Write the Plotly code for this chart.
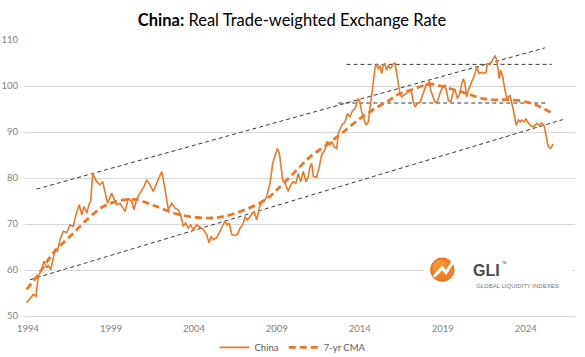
import plotly.graph_objects as go

# ---- data ----
china_t = [1993.92, 1994.32, 1994.48, 1994.62, 1994.83, 1994.96, 1995.13, 1995.22, 1995.37, 1995.53,
           1995.63, 1995.77, 1995.93, 1996.13, 1996.33, 1996.53, 1996.73, 1996.89, 1997.09, 1997.24,
           1997.38, 1997.54, 1997.70, 1997.78, 1997.90, 1998.14, 1998.34, 1998.50, 1998.64, 1998.80,
           1999.04, 1999.35, 1999.55, 1999.85, 2000.05, 2000.25, 2000.39, 2000.55, 2000.75, 2000.99,
           2001.15, 2001.35, 2001.55, 2001.76, 2002.06, 2002.20, 2002.32, 2002.46, 2002.66, 2002.86,
           2003.06, 2003.20, 2003.36, 2003.50, 2003.66, 2003.81, 2003.96, 2004.17, 2004.37, 2004.57,
           2004.77, 2004.91, 2005.03, 2005.17, 2005.37, 2005.57, 2005.74, 2005.87, 2006.01, 2006.13,
           2006.28, 2006.48, 2006.62, 2006.78, 2006.94, 2007.08, 2007.22, 2007.38, 2007.54, 2007.62,
           2007.79, 2007.94, 2008.09, 2008.23, 2008.39, 2008.59, 2008.75, 2008.89, 2009.03, 2009.15,
           2009.23, 2009.35, 2009.49, 2009.69, 2009.83, 2009.99, 2010.15, 2010.29, 2010.44, 2010.59,
           2010.76, 2010.90, 2011.00, 2011.10, 2011.20, 2011.40, 2011.56, 2011.70, 2011.90, 2012.00,
           2012.20, 2012.31, 2012.44, 2012.61, 2012.70, 2012.91, 2013.11, 2013.25, 2013.41, 2013.57,
           2013.71, 2013.81, 2013.91, 2014.01, 2014.11, 2014.21, 2014.37, 2014.51, 2014.61, 2014.78,
           2014.92, 2015.02, 2015.12, 2015.22, 2015.32, 2015.42, 2015.52, 2015.62, 2015.72, 2015.82,
           2015.92, 2016.02, 2016.12, 2016.22, 2016.32, 2016.42, 2016.52, 2016.66, 2016.78, 2016.92,
           2017.03, 2017.13, 2017.23, 2017.33, 2017.47, 2017.63, 2017.83, 2018.03, 2018.13, 2018.19,
           2018.27, 2018.39, 2018.53, 2018.67, 2018.83, 2019.00, 2019.13, 2019.24, 2019.33, 2019.48,
           2019.60, 2019.74, 2019.88, 2020.04, 2020.14, 2020.24, 2020.34, 2020.44, 2020.54, 2020.74,
           2020.88, 2021.05, 2021.20, 2021.35, 2021.45, 2021.61, 2021.69, 2021.85, 2022.01, 2022.15,
           2022.25, 2022.35, 2022.41, 2022.49, 2022.61, 2022.75, 2022.86, 2023.05, 2023.16, 2023.26,
           2023.42, 2023.56, 2023.66, 2023.76, 2023.90, 2024.02, 2024.10, 2024.26, 2024.46, 2024.67,
           2024.82, 2024.96, 2025.10, 2025.22, 2025.36, 2025.50, 2025.66]
china_v = [52.9, 54.7, 54.3, 58.7, 60.1, 61.9, 60.5, 61.0, 60.1, 63.0,
           64.4, 64.1, 66.6, 68.4, 68.1, 69.8, 69.5, 72.0, 74.2, 72.0,
           73.8, 72.4, 74.5, 74.9, 81.0, 79.2, 78.5, 79.2, 76.7, 74.5,
           76.7, 74.2, 74.5, 72.7, 75.6, 74.9, 73.1, 75.4, 76.7, 78.1,
           79.6, 78.5, 77.1, 78.9, 81.4, 78.9, 76.0, 73.1, 74.5, 73.5,
           73.1, 72.0, 69.5, 70.2, 69.1, 69.8, 68.8, 69.8, 69.3, 68.8,
           67.7, 65.9, 67.3, 66.6, 67.0, 68.4, 69.8, 70.6, 69.8, 70.2,
           67.7, 67.5, 67.7, 69.1, 69.8, 71.6, 70.9, 71.6, 72.4, 72.7,
           70.9, 73.5, 74.9, 74.9, 76.0, 78.9, 83.2, 84.6, 86.4, 85.4,
           83.2, 79.6, 78.9, 77.1, 78.5, 79.2, 78.9, 81.0, 79.2, 81.4,
           79.2, 80.3, 82.5, 83.2, 80.3, 80.2, 82.5, 85.0, 86.1, 87.9,
           87.2, 87.9, 86.8, 86.4, 89.7, 91.5, 92.2, 94.0, 93.3, 94.7,
           95.1, 96.2, 97.3, 96.5, 94.4, 93.3, 91.5, 92.2, 94.7, 99.8,
           104.1, 104.8, 103.6, 104.5, 102.7, 104.5, 104.8, 103.4, 104.5, 103.8,
           104.2, 104.8, 105.0, 102.7, 100.5, 98.4, 97.6, 98.0, 98.4, 98.7,
           99.1, 98.4, 96.5, 95.5, 96.2, 96.5, 98.4, 100.5, 100.2, 101.2,
           99.1, 98.0, 96.5, 96.5, 98.4, 99.8, 100.2, 98.7, 96.9, 96.5,
           98.4, 99.1, 97.3, 98.4, 100.5, 101.6, 100.5, 97.6, 99.1, 100.9,
           102.0, 104.1, 102.7, 103.0, 102.7, 103.0, 104.8, 104.8, 105.9, 106.6,
           105.6, 103.0, 101.6, 103.4, 102.0, 99.1, 97.3, 98.0, 96.5, 94.7,
           91.5, 92.6, 92.2, 92.6, 92.2, 92.9, 92.2, 91.5, 91.1, 91.9,
           91.5, 92.0, 91.5, 89.0, 86.8, 86.4, 87.4]

cma_t = [1993.92, 1994.62, 1995.53, 1996.53, 1997.54, 1998.54, 1999.35, 1999.95, 2000.55, 2001.25,
         2001.76, 2002.76, 2003.76, 2004.97, 2005.77, 2006.78, 2007.79, 2008.59, 2009.00, 2010.00,
         2011.00, 2012.00, 2013.00, 2014.00, 2015.00, 2015.82, 2016.22, 2017.23, 2018.23, 2019.24,
         2020.24, 2021.25, 2022.05, 2022.96, 2024.06, 2024.86, 2025.66]
cma_v = [55.8, 59.0, 63.7, 67.3, 70.9, 73.8, 74.9, 75.3, 75.3, 74.5,
         73.8, 72.4, 71.6, 71.3, 71.6, 72.7, 74.2, 76.0, 77.4, 81.0,
         84.6, 87.2, 90.0, 92.9, 95.3, 97.0, 98.0, 99.3, 100.4, 99.6,
         98.6, 97.4, 97.0, 97.0, 96.5, 95.5, 93.9]

# trend / range lines (start, end)
upper_trend_t = [1994.52, 2025.16]
upper_trend_v = [77.6, 108.3]
lower_trend_t = [1994.12, 2026.23]
lower_trend_v = [57.9, 92.7]
top_range_t = [2013.20, 2025.57]
top_range_v = [104.7, 104.7]
mid_range_t = [2012.70, 2025.36]
mid_range_v = [96.3, 96.3]

tick_years = [1994, 1999, 2004, 2009, 2014, 2019, 2024]
tick_text = [str(y) for y in tick_years]

ORANGE = "#E8792A"
FONT = "Lato"

fig = go.Figure()

for tt, vv in [(upper_trend_t, upper_trend_v), (lower_trend_t, lower_trend_v),
               (top_range_t, top_range_v), (mid_range_t, mid_range_v)]:
    fig.add_trace(go.Scatter(x=tt, y=vv, mode="lines", showlegend=False, hoverinfo="skip",
                             line=dict(color="#3a3a3a", width=1, dash="4px,3px")))

fig.add_trace(go.Scatter(x=china_t, y=china_v, mode="lines", name="China",
                         line=dict(color=ORANGE, width=1.6)))
fig.add_trace(go.Scatter(x=cma_t, y=cma_v, mode="lines", name="7-yr CMA", line_shape="spline",
                         line=dict(color=ORANGE, width=2.8, dash="7px,4px")))

# plot area in window pixels: x 25..575, y 39.5..316.5
W, H = 585, 357

def px(X):
    return (X - 25) / 550.0

def py(Y):
    return (316.5 - Y) / 277.0

shapes = [
    dict(type="rect", xref="paper", yref="paper", x0=px(424), x1=px(572), y0=py(292), y1=py(252),
         fillcolor="white", line=dict(width=0), layer="above"),
    dict(type="circle", xref="paper", yref="paper", x0=px(430.6), x1=px(454), y0=py(281.7), y1=py(258.3),
         fillcolor="#EF7E22", line=dict(color="#E36A1C", width=1), layer="above"),
    dict(type="circle", xref="paper", yref="paper", x0=px(432.5), x1=px(447), y0=py(275), y1=py(260),
         fillcolor="#F6A03A", line=dict(width=0), opacity=0.6, layer="above"),
    dict(type="path", xref="paper", yref="paper",
         path=f"M {px(434)} {py(277)} L {px(442)} {py(268)} L {px(446)} {py(273)} L {px(453)} {py(262)}",
         line=dict(color="white", width=3), layer="above"),
]

annotations = [
    dict(xref="paper", yref="paper", x=px(471), y=py(270.5), text="<b>GLI</b>", showarrow=False,
         font=dict(family="Liberation Sans", size=16, color="#4a4a4a"), xanchor="left", yanchor="middle"),
    dict(xref="paper", yref="paper", x=px(500), y=py(263), text="TM", showarrow=False,
         font=dict(family="Liberation Sans", size=3, color="#4a4a4a"), xanchor="left", yanchor="middle"),
    dict(xref="paper", yref="paper", x=px(517.5), y=py(286), text="GLOBAL LIQUIDITY INDEXES",
         showarrow=False, font=dict(family="Liberation Sans", size=6, color="#777777"),
         xanchor="center", yanchor="middle"),
]

fig.update_layout(
    width=W, height=H,
    margin=dict(l=25, r=W - 575, t=39.5, b=H - 316.5, autoexpand=False),
    paper_bgcolor="white", plot_bgcolor="white",
    title=dict(text="<b>China:</b> Real Trade-weighted Exchange Rate", x=292 / W, xref="container",
               xanchor="center", y=1 - 20 / H, yref="container", yanchor="middle",
               font=dict(family=FONT, size=16.5, color="#000000"), automargin=False),
    xaxis=dict(range=[1993.82, 2026.97], tickmode="array", tickvals=tick_years, ticktext=tick_text,
               showgrid=False, zeroline=False, showline=True, linecolor="#D9D9D9", linewidth=1,
               ticks="", automargin=False, ticklabelstandoff=4,
               tickfont=dict(family=FONT, size=9.5, color="#7F7F7F")),
    yaxis=dict(range=[50, 110], dtick=10, tick0=50, showgrid=True, gridcolor="#D9D9D9", gridwidth=1,
               zeroline=False, showline=False, ticks="", ticklabelstandoff=6, automargin=False,
               tickfont=dict(family=FONT, size=9.5, color="#7F7F7F")),
    legend=dict(orientation="h", x=px(293), xanchor="center", y=py(348), yanchor="middle",
                font=dict(family=FONT, size=9.5, color="#595959"), itemwidth=30,
                bgcolor="rgba(0,0,0,0)"),
    shapes=shapes,
    annotations=annotations,
    showlegend=True,
)

# remove the browser's default 8px page margin so the figure sits at the window's top-left corner
fig.write_html("out.html", config={"displayModeBar": False},
               post_script="document.body.style.margin='0px';")
